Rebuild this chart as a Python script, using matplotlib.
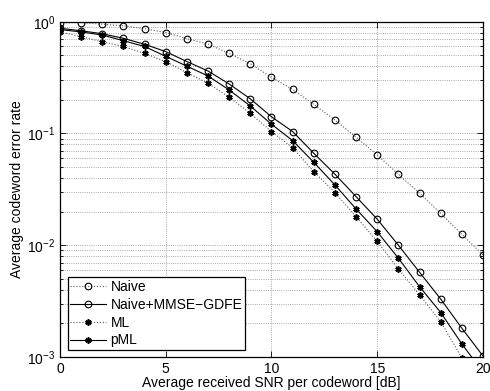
import numpy as np
import matplotlib
matplotlib.use("Agg")
import matplotlib.pyplot as plt
from matplotlib.ticker import LogLocator, NullFormatter

plt.rcParams["font.family"] = ["Liberation Sans", "DejaVu Sans"]

snr = list(range(0, 21))

naive = [0.98, 0.98, 0.95, 0.92, 0.865, 0.80, 0.705, 0.63, 0.52, 0.42, 0.318,
         0.248, 0.182, 0.132, 0.0925, 0.0643, 0.0431, 0.0292, 0.0193, 0.0125, 0.0082]
naive_gdfe = [0.873, 0.83, 0.78, 0.71, 0.628, 0.54, 0.44, 0.362, 0.277, 0.204, 0.141,
              0.104, 0.0665, 0.0432, 0.0272, 0.0171, 0.0100, 0.00573, 0.0033, 0.00181, 0.00102]
ml = [0.81, 0.734, 0.662, 0.60, 0.52, 0.44, 0.35, 0.281, 0.211, 0.151, 0.104,
      0.0746, 0.0455, 0.0296, 0.018, 0.0108, 0.00614, 0.00359, 0.00207, 0.00098, 0.0005]
pml = [0.85, 0.81, 0.76, 0.676, 0.60, 0.49, 0.40, 0.327, 0.245, 0.176, 0.121,
       0.0863, 0.0552, 0.0346, 0.0211, 0.0132, 0.00765, 0.00426, 0.0025, 0.00131, 0.00073]

# matlab-ish asterisk
star = (6, 2, 0)

fig = plt.figure(figsize=(4.9, 3.91), dpi=100)
ax = fig.add_axes([0.1224, 0.087, 0.8633, 0.8575])

ax.semilogy(snr, naive, ls=":", color="0.35", lw=0.8, marker="o", ms=4.8,
            mfc="none", mec="black", mew=0.8, label="Naive")
ax.semilogy(snr, naive_gdfe, ls="-", color="black", lw=0.8, marker="o", ms=4.8,
            mfc="none", mec="black", mew=0.8, label="Naive+MMSE\u2212GDFE")
ax.semilogy(snr, ml, ls=":", color="0.35", lw=0.8, marker=star, ms=4.5,
            mfc="black", mec="black", mew=1.2, label="ML")
ax.semilogy(snr, pml, ls="-", color="black", lw=0.8, marker=star, ms=4.5,
            mfc="black", mec="black", mew=1.2, label="pML")

ax.set_xlim(0, 20)
ax.set_ylim(1e-3, 1)
ax.set_xticks([0, 5, 10, 15, 20])
ax.yaxis.set_major_locator(LogLocator(base=10, numticks=10))
ax.yaxis.set_minor_locator(LogLocator(base=10, subs=np.arange(2, 10), numticks=10))
ax.yaxis.set_minor_formatter(NullFormatter())

ax.grid(True, which="major", ls=":", color="0.55", lw=0.6)
ax.grid(True, which="minor", axis="y", ls=":", color="0.55", lw=0.6)
ax.tick_params(which="both", direction="in", top=True, right=True, labelsize=10)
ax.tick_params(which="major", length=4, width=0.6)
ax.tick_params(which="minor", length=2, width=0.6)
for s in ax.spines.values():
    s.set_linewidth(0.9)

ax.set_xlabel("Average received SNR per codeword [dB]", fontsize=10, labelpad=0)
ax.set_ylabel("Average codeword error rate", fontsize=10, labelpad=2)

leg = ax.legend(loc="lower left", bbox_to_anchor=(0.018, 0.02), fontsize=10,
                fancybox=False, edgecolor="black", framealpha=1, handlelength=2.6,
                borderpad=0.2, labelspacing=0.28, handletextpad=0.3, borderaxespad=0)
leg.get_frame().set_linewidth(0.9)

fig.savefig("out.png", dpi=100)
